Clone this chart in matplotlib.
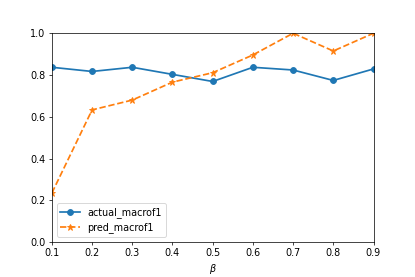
import matplotlib
matplotlib.use('Agg')
import matplotlib.pyplot as plt

# beta values and scores
beta = [0.1, 0.2, 0.3, 0.4, 0.5, 0.6, 0.7, 0.8, 0.9]
actual_macrof1 = [0.837, 0.817, 0.837, 0.803, 0.769, 0.837, 0.824, 0.774, 0.829]
pred_macrof1 = [0.235, 0.633, 0.680, 0.766, 0.811, 0.896, 1.0, 0.915, 1.0]

plt.rcParams['font.size'] = 10.6

fig = plt.figure(figsize=(415 / 65, 277 / 65), dpi=65)
fig.subplots_adjust(left=0.125, right=0.9, top=0.88, bottom=0.126)
ax = fig.add_subplot(111)

ax.plot(beta, actual_macrof1, marker='o', linestyle='-', lw=1.9, ms=6.5,
        label='actual_macrof1')
ax.plot(beta, pred_macrof1, marker='*', linestyle='--', lw=1.9, ms=7,
        label='pred_macrof1')

ax.set_xlim(0.1, 0.9)
ax.set_ylim(0.0, 1.0)
ax.set_xlabel(r'$\beta$')
ax.legend(loc='lower left')

fig.savefig('out.png', dpi=65)
